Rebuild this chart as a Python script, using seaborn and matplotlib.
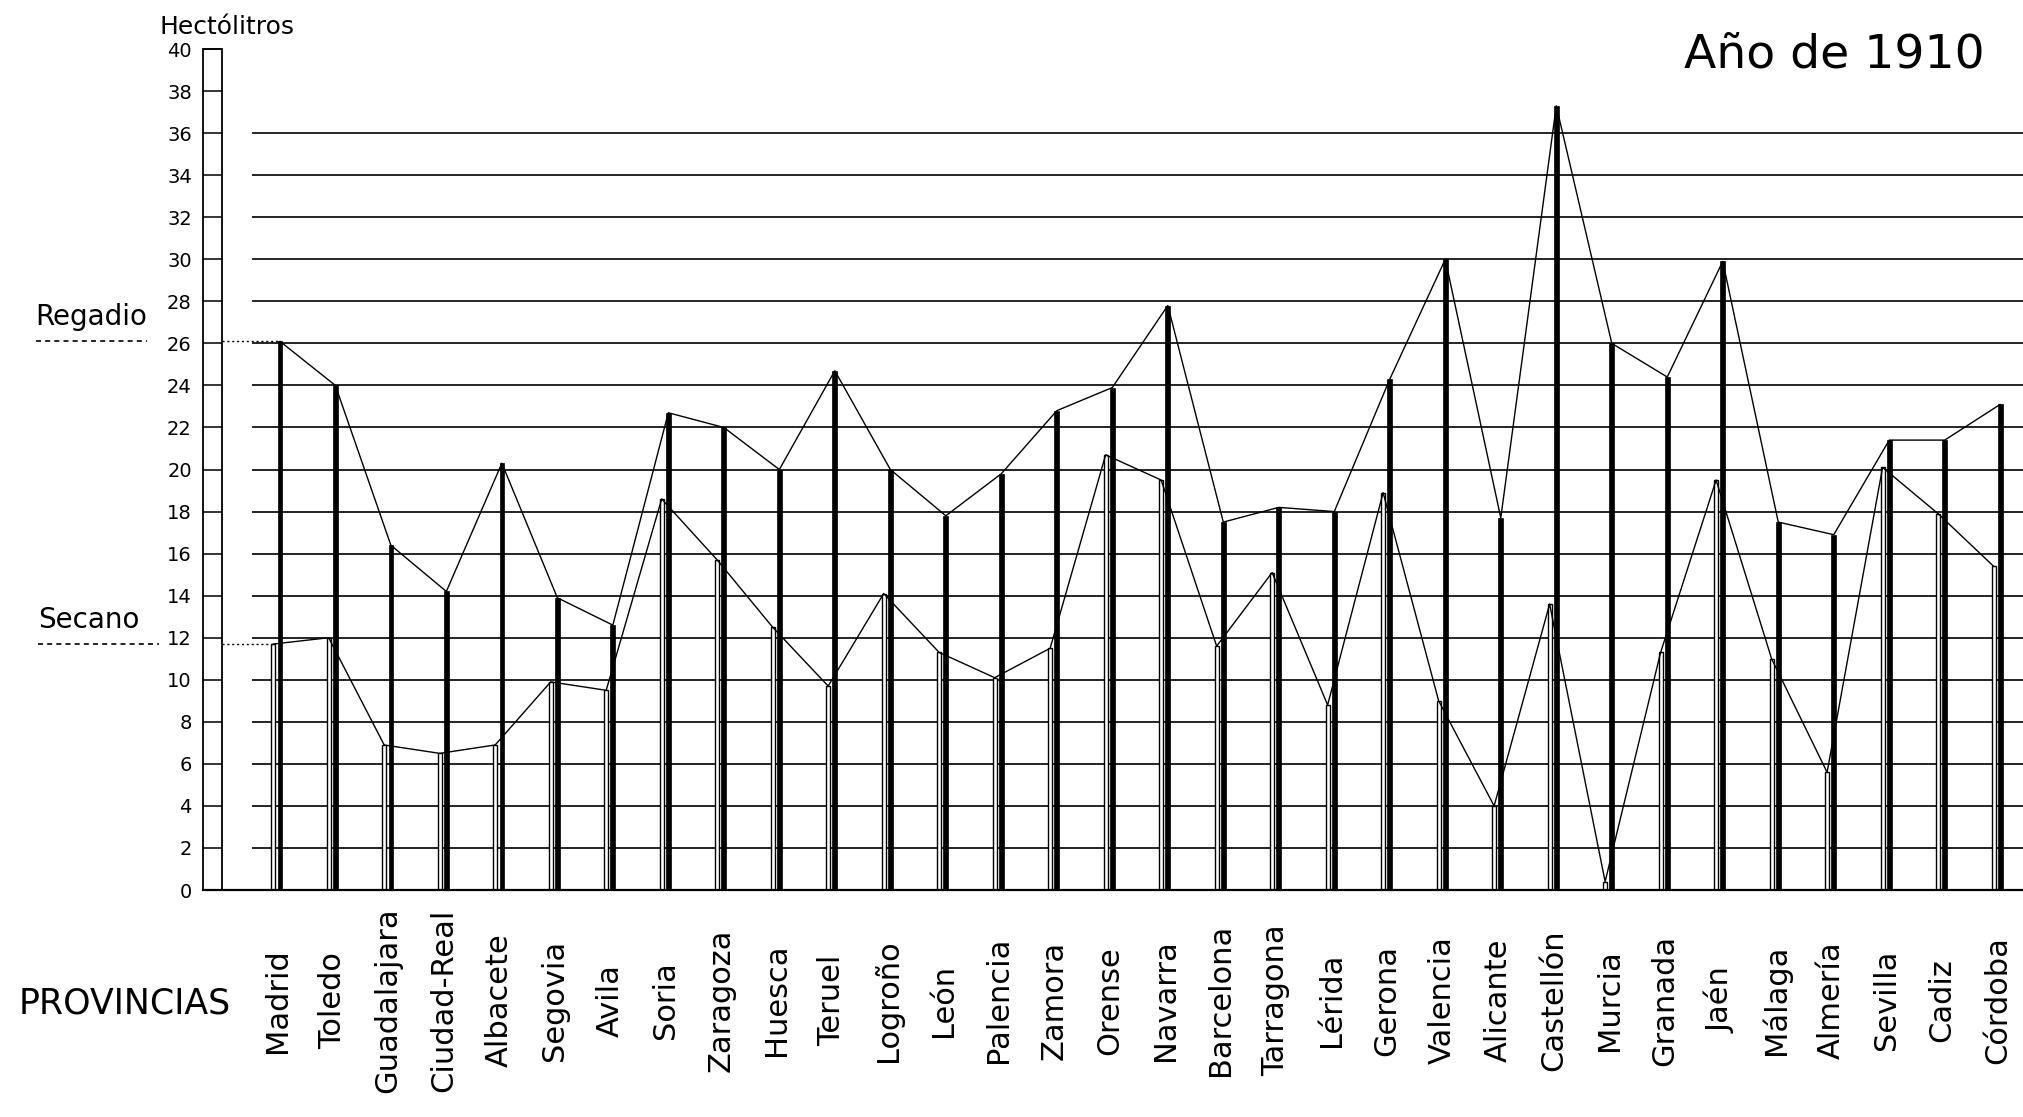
import numpy as np
import pandas as pd
import matplotlib
matplotlib.use("Agg")
import matplotlib.pyplot as plt
import matplotlib.transforms as mtransforms
from matplotlib.patches import Rectangle
import seaborn as sns

provincias = ["Madrid", "Toledo", "Guadalajara", "Ciudad-Real", "Albacete", "Segovia",
              "Avila", "Soria", "Zaragoza", "Huesca", "Teruel", "Logroño", "León",
              "Palencia", "Zamora", "Orense", "Navarra", "Barcelona", "Tarragona",
              "Lérida", "Gerona", "Valencia", "Alicante", "Castellón", "Murcia",
              "Granada", "Jaén", "Málaga", "Almería", "Sevilla", "Cadiz", "Córdoba"]
regadio = [26.1, 24.0, 16.4, 14.2, 20.3, 13.9, 12.6, 22.7, 22.0, 20.0, 24.7, 20.0,
           17.8, 19.8, 22.8, 23.9, 27.8, 17.5, 18.2, 18.0, 24.3, 30.0, 17.7, 37.3,
           26.0, 24.4, 29.9, 17.5, 16.9, 21.4, 21.4, 23.1]
secano = [11.7, 12.0, 6.9, 6.5, 6.9, 9.9, 9.5, 18.6, 15.7, 12.5, 9.7, 14.1,
          11.3, 10.1, 11.5, 20.7, 19.5, 11.6, 15.1, 8.8, 18.9, 9.0, 4.0, 13.6,
          0.4, 11.3, 19.5, 11.0, 5.6, 20.1, 17.9, 15.4]
y_ticks = list(range(0, 41, 2))

sns.set_style("white")
plt.rcParams["font.family"] = ["DejaVu Sans"]
plt.rcParams["text.color"] = "black"
plt.rcParams["ytick.color"] = "black"
plt.rcParams["ytick.labelcolor"] = "black"

df = pd.DataFrame({"provincia": provincias, "regadio": regadio, "secano": secano})
df["pos"] = np.arange(len(df))
df["pos_secano"] = df["pos"] - 0.12

fig = plt.figure(figsize=(20.23, 11.17), dpi=100)
ax = fig.add_axes([0.1003, 0.2032, 0.8997, 0.7529])

# ruled lines of the sheet
ax.hlines(y_ticks[1:19], -0.5, 31.6, color="black", lw=1.2, zorder=0)

# secano: hollow thin bar, regadio: solid bar
sns.barplot(data=df, x="pos_secano", y="secano", native_scale=True, width=0.07,
            color="white", edgecolor="black", linewidth=1.0, saturation=1,
            errorbar=None, ax=ax, zorder=2)
sns.barplot(data=df, x="pos", y="regadio", native_scale=True, width=0.085,
            color="black", edgecolor="black", linewidth=0.5, saturation=1,
            errorbar=None, ax=ax, zorder=2)

sns.lineplot(data=df, x="pos", y="regadio", color="black", lw=1.0,
             estimator=None, sort=False, ax=ax, zorder=3)
sns.lineplot(data=df, x="pos_secano", y="secano", color="black", lw=1.0,
             estimator=None, sort=False, ax=ax, zorder=3)

ax.set_xlim(-1.387, 31.41)
ax.set_ylim(0, 40)
ax.set_xlabel("")
ax.set_ylabel("")
ax.set_xticks([])
ax.set_yticks(y_ticks)
ax.set_yticklabels([str(v) for v in y_ticks])
ax.tick_params(axis="y", left=True, direction="in", length=13.7, width=1.1,
               pad=8, labelsize=14, colors="black")
ax.spines[["top", "right", "left"]].set_visible(False)
ax.spines["bottom"].set_linewidth(1.6)
ax.spines["bottom"].set_color("black")

# the scale column
ax.add_patch(Rectangle((-1.387, 0), 0.342, 40, fill=False, ec="black", lw=1.3,
                       clip_on=False, zorder=4))

# reference marks for Regadio / Secano
ax.plot([-1.045, 0], [regadio[0]] * 2, color="black", lw=1.0, ls=(0, (1.5, 2)))
ax.plot([-1.045, -0.12], [secano[0]] * 2, color="black", lw=1.0, ls=(0, (1.5, 2)))
ax.plot([-4.40, -2.40], [regadio[0]] * 2, color="black", lw=1.2, ls=(0, (3, 2.5)),
        clip_on=False)
ax.plot([-4.36, -2.18], [secano[0]] * 2, color="black", lw=1.2, ls=(0, (3, 2.5)),
        clip_on=False)
ax.text(-4.40, 26.6, "Regadio", fontsize=20, ha="left", va="bottom", clip_on=False)
ax.text(-4.36, 12.2, "Secano", fontsize=20, ha="left", va="bottom", clip_on=False)

trans = mtransforms.blended_transform_factory(ax.transData, ax.transAxes)
for i, name in enumerate(provincias):
    ax.text(i - 0.05, -0.131, name, transform=trans, rotation=90,
            ha="center", va="center", fontsize=22)

fig.text(125 / 2023, 1 - 1003 / 1117, "PROVINCIAS", fontsize=25, ha="center", va="center")
fig.text(227 / 2023, 1 - 27 / 1117, "Hectólitros", fontsize=18, ha="center", va="center")
fig.text(1834 / 2023, 1 - 55 / 1117, "Año de 1910", fontsize=34, ha="center", va="center")

fig.savefig("out.png", dpi=100)
